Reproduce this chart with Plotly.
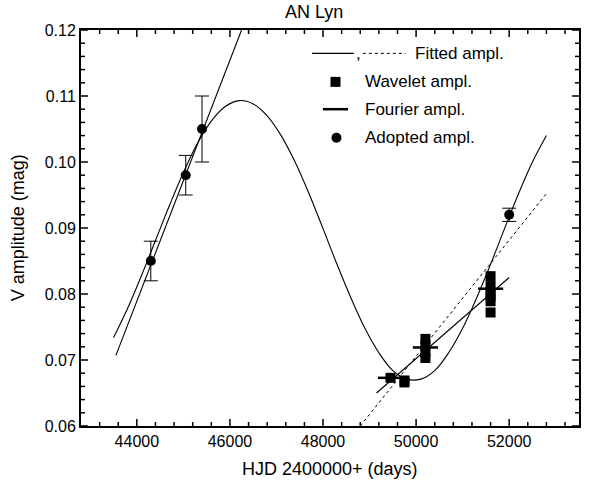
import plotly.graph_objects as go

# ---------------- data ----------------
# Adopted amplitudes (filled circles with error bars)
adopted_x = [44300, 45050, 45400, 52000]
adopted_y = [0.085, 0.098, 0.105, 0.092]
adopted_err = [0.003, 0.003, 0.005, 0.001]

# Wavelet amplitudes (filled squares)
wavelet_x = [49450, 49750, 49750,
             50200, 50200, 50200, 50200,
             51600, 51600, 51600, 51600, 51600, 51600]
wavelet_y = [0.0673, 0.0669, 0.0666,
             0.0732, 0.0722, 0.0712, 0.0703,
             0.0827, 0.0812, 0.0803, 0.0796, 0.0789, 0.0772]

# Fourier amplitudes (horizontal dashes)
fourier_x = [49450, 50200, 51600]
fourier_y = [0.0673, 0.0719, 0.0808]

# Fitted curve (sinusoidal fit)
fit_curve_x = [43500, 43800, 44100, 44400, 44700, 45000, 45300, 45600, 45900,
               46200, 46500, 46800, 47100, 47400, 47700, 48000, 48300, 48600,
               48900, 49200, 49500, 49800, 50100, 50400, 50700, 51000, 51300,
               51600, 51900, 52200, 52500, 52800]
fit_curve_y = [0.0734, 0.0778, 0.0828, 0.0881, 0.0934, 0.0984, 0.1028, 0.1062,
               0.1084, 0.1093, 0.1088, 0.1070, 0.1040, 0.1000, 0.0952, 0.0899,
               0.0845, 0.0794, 0.0748, 0.0711, 0.0684, 0.0671, 0.0671, 0.0684,
               0.0711, 0.0748, 0.0794, 0.0845, 0.0899, 0.0952, 0.1000, 0.1040]

# Straight fitted line through the early adopted amplitudes (solid)
fit_early_x = [43550, 46250]
fit_early_y = [0.0707, 0.1200]

# Straight fitted line through the Fourier amplitudes (solid)
fit_fourier_x = [49150, 52000]
fit_fourier_y = [0.0650, 0.0825]

# Straight fitted line through the late amplitudes (dotted)
fit_late_x = [48800, 52800]
fit_late_y = [0.0600, 0.0952]

x_range = [42800, 53500]
y_range = [0.06, 0.12]

# tick values (major labelled, minor unlabelled)
x_major_ticks = [44000, 46000, 48000, 50000, 52000]
x_minor_step = 400
y_major_ticks = [0.06, 0.07, 0.08, 0.09, 0.10, 0.11, 0.12]
y_minor_step = 0.002

title_text = "AN Lyn"
x_title = "HJD 2400000+ (days)"
y_title = "V amplitude (mag)"
legend_labels = ["Fitted ampl.", "Wavelet ampl.", "Fourier ampl.", "Adopted ampl."]

# ---------------- layout geometry ----------------
W, H = 591, 488
M_L, M_R, M_T, M_B = 81, 10, 30, 62
plot_w = W - M_L - M_R
plot_h = H - M_T - M_B
x_per_px = (x_range[1] - x_range[0]) / plot_w
y_per_px = (y_range[1] - y_range[0]) / plot_h
MAJOR_LEN, MINOR_LEN = 7, 4

FONT = "Liberation Sans, Arial, Helvetica, sans-serif"
fig = go.Figure()

fig.add_trace(go.Scatter(x=fit_curve_x, y=fit_curve_y, mode="lines",
                         line=dict(color="black", width=1.1, shape="spline")))
fig.add_trace(go.Scatter(x=fit_early_x, y=fit_early_y, mode="lines",
                         line=dict(color="black", width=1.1)))
fig.add_trace(go.Scatter(x=fit_fourier_x, y=fit_fourier_y, mode="lines",
                         line=dict(color="black", width=1.1)))
fig.add_trace(go.Scatter(x=fit_late_x, y=fit_late_y, mode="lines",
                         line=dict(color="black", width=1, dash="dot")))
fig.add_trace(go.Scatter(x=wavelet_x, y=wavelet_y, mode="markers",
                         marker=dict(symbol="square", size=10, color="black")))
fig.add_trace(go.Scatter(x=fourier_x, y=fourier_y, mode="markers",
                         marker=dict(symbol="line-ew", size=18, color="black",
                                     line=dict(color="black", width=2.5))))
fig.add_trace(go.Scatter(x=adopted_x, y=adopted_y, mode="markers",
                         marker=dict(symbol="circle", size=10, color="black"),
                         error_y=dict(type="data", array=adopted_err, visible=True,
                                      color="black", thickness=1, width=7)))

# ---------------- inward tick marks on all four sides ----------------
x_all = []
v = x_major_ticks[0]
while v - x_minor_step > x_range[0]:
    v -= x_minor_step
while v < x_range[1]:
    x_all.append(v)
    v += x_minor_step
y_all = []
n = int(round((y_range[1] - y_range[0]) / y_minor_step))
for i in range(n + 1):
    y_all.append(round(y_range[0] + i * y_minor_step, 4))

tx, ty = [], []
for xv in x_all:
    is_major = any(abs(xv - m) < 1e-6 for m in x_major_ticks)
    dy = (MAJOR_LEN if is_major else MINOR_LEN) * y_per_px
    tx += [xv, xv, None, xv, xv, None]
    ty += [y_range[0], y_range[0] + dy, None, y_range[1], y_range[1] - dy, None]
for yv in y_all:
    is_major = any(abs(yv - m) < 1e-6 for m in y_major_ticks)
    dx = (MAJOR_LEN if is_major else MINOR_LEN) * x_per_px
    tx += [x_range[0], x_range[0] + dx, None, x_range[1], x_range[1] - dx, None]
    ty += [yv, yv, None, yv, yv, None]
fig.add_trace(go.Scatter(x=tx, y=ty, mode="lines", connectgaps=False,
                         line=dict(color="black", width=1.5), hoverinfo="skip"))

# ---------------- hand-drawn legend on a hidden 0..1 overlay axis ----------------
row_y = [0.941, 0.869, 0.800, 0.728]
fig.add_trace(go.Scatter(x=[0.464, 0.548], y=[row_y[0], row_y[0]], xaxis="x3", yaxis="y3",
                         mode="lines", line=dict(color="black", width=1.1)))
fig.add_trace(go.Scatter(x=[0.566, 0.652], y=[row_y[0], row_y[0]], xaxis="x3", yaxis="y3",
                         mode="lines", line=dict(color="black", width=1, dash="dot")))
fig.add_trace(go.Scatter(x=[0.511], y=[row_y[1]], xaxis="x3", yaxis="y3", mode="markers",
                         marker=dict(symbol="square", size=10, color="black")))
fig.add_trace(go.Scatter(x=[0.511], y=[row_y[2]], xaxis="x3", yaxis="y3", mode="markers",
                         marker=dict(symbol="line-ew", size=18, color="black",
                                     line=dict(color="black", width=2.5))))
fig.add_trace(go.Scatter(x=[0.513], y=[row_y[3]], xaxis="x3", yaxis="y3", mode="markers",
                         marker=dict(symbol="circle", size=10, color="black")))


def text(t, x, y, size, xanchor="center", angle=0):
    return dict(text=t, xref="paper", yref="paper", x=x, y=y, xanchor=xanchor,
                yanchor="middle", showarrow=False, textangle=angle,
                font=dict(family=FONT, size=size, color="black"))


annotations = [
    text(title_text, 0.468, 1.046, 18),
    text(x_title, 0.5, -0.108, 18),
    text(y_title, -0.126, 0.5, 18, angle=-90),
    text(",", 0.558, row_y[0], 17),
    text(legend_labels[0], 0.667, row_y[0], 17, xanchor="left"),
]
for lab, yy in zip(legend_labels[1:], row_y[1:]):
    annotations.append(text(lab, 0.566, yy, 17, xanchor="left"))

fig.update_layout(
    width=W, height=H, margin=dict(l=M_L, r=M_R, t=M_T, b=M_B), showlegend=False,
    paper_bgcolor="white", plot_bgcolor="white",
    annotations=annotations,
    xaxis=dict(range=x_range, tickvals=x_major_ticks, tickformat="d", ticks="",
               showline=True, linecolor="black", linewidth=2, mirror=True,
               showgrid=False, zeroline=False,
               tickfont=dict(family=FONT, size=16, color="black")),
    yaxis=dict(range=y_range, tickvals=y_major_ticks, tickformat=".2f", ticks="",
               showline=True, linecolor="black", linewidth=2, mirror=True,
               showgrid=False, zeroline=False,
               tickfont=dict(family=FONT, size=16, color="black")),
    xaxis3=dict(range=[0, 1], overlaying="x", anchor="y3", visible=False),
    yaxis3=dict(range=[0, 1], overlaying="y", anchor="x3", visible=False),
)

fig.write_html("out.html", post_script="document.body.style.margin='0';",
               config={"displayModeBar": False})
